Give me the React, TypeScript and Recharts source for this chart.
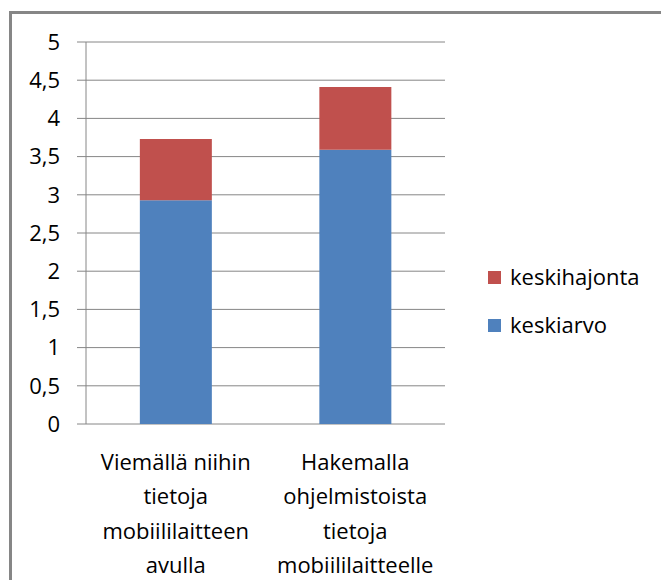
import React from "react";
import { BarChart, Bar, XAxis, YAxis, CartesianGrid, Legend } from "recharts";

// Category labels, broken into the lines shown under each bar
const categories = [
  "Viemällä niihin\ntietoja\nmobiililaitteen\navulla",
  "Hakemalla\nohjelmistoista\ntietoja\nmobiililaitteelle",
];
const keskiarvo = [2.93, 3.59];
const keskihajonta = [0.8, 0.82];
const yTicks = [0, 0.5, 1, 1.5, 2, 2.5, 3, 3.5, 4, 4.5, 5];

const data = categories.map((name, i) => ({
  name,
  keskiarvo: keskiarvo[i],
  keskihajonta: keskihajonta[i],
}));

// Category boundaries for the tick marks between bars
const edgeTicks = Array.from({ length: categories.length + 1 }, (_, i) => i);

const FONT = "'Open Sans', sans-serif";
const GRID = "#868686";
const BLUE = "#4F81BD";
const RED = "#C0504D";

const CategoryTick = (props: any) => {
  const { x, y, payload } = props;
  const lines = String(payload.value).split("\n");
  return (
    <text
      x={x}
      y={y}
      textAnchor="middle"
      fontFamily={FONT}
      fontSize={22}
      fill="#000"
    >
      {lines.map((line, i) => (
        <tspan key={i} x={x} dy={i === 0 ? 44 : 34.3}>
          {line}
        </tspan>
      ))}
    </text>
  );
};

const LegendContent = (props: any) => {
  const items = [...(props.payload || [])].reverse();
  return (
    <div style={{ fontFamily: FONT, fontSize: 22, color: "#000" }}>
      {items.map((item: any) => (
        <div
          key={item.value}
          style={{ display: "flex", alignItems: "center", height: 48 }}
        >
          <span
            style={{
              display: "inline-block",
              width: 13,
              height: 13,
              background: item.color,
              marginRight: 9,
              marginTop: 2,
            }}
          />
          <span>{item.value}</span>
        </div>
      ))}
    </div>
  );
};

export default function App() {
  return (
    <div
      style={{
        position: "absolute",
        left: 0,
        top: 0,
        width: 661,
        height: 580,
        overflow: "hidden",
        background: "#fff",
      }}
    >
      <div
        style={{
          position: "absolute",
          left: 9,
          top: 11,
          width: 700,
          height: 620,
          borderTop: `3px solid ${GRID}`,
          borderLeft: `3px solid ${GRID}`,
        }}
      />
      <div style={{ position: "absolute", left: 0, top: 0 }}>
        <BarChart
          width={661}
          height={580}
          data={data}
          margin={{ top: 42, right: 216, bottom: 6, left: 0 }}
          barCategoryGap="30%"
        >
          <CartesianGrid vertical={false} stroke={GRID} />
          <XAxis
            xAxisId="edges"
            type="number"
            domain={[0, categories.length]}
            ticks={edgeTicks}
            allowDataOverflow
            height={0}
            tick={false}
            tickSize={9}
            tickLine={{ stroke: GRID }}
            axisLine={{ stroke: GRID }}
          />
          <XAxis
            dataKey="name"
            height={150}
            axisLine={false}
            tickLine={false}
            tickSize={0}
            tick={<CategoryTick />}
            interval={0}
          />
          <YAxis
            width={86}
            domain={[0, 5]}
            ticks={yTicks}
            interval={0}
            tickSize={9}
            tickMargin={17}
            tickLine={{ stroke: GRID }}
            axisLine={{ stroke: GRID }}
            tickFormatter={(v: number) => String(v).replace(".", ",")}
            tick={{ fontFamily: FONT, fontSize: 22, fill: "#000" }}
          />
          <Legend
            layout="vertical"
            align="center"
            verticalAlign="middle"
            content={<LegendContent />}
            wrapperStyle={{ left: 488, top: 252, width: 170 }}
          />
          <Bar
            dataKey="keskiarvo"
            name="keskiarvo"
            stackId="a"
            fill={BLUE}
            isAnimationActive={false}
          />
          <Bar
            dataKey="keskihajonta"
            name="keskihajonta"
            stackId="a"
            fill={RED}
            isAnimationActive={false}
          />
        </BarChart>
      </div>
    </div>
  );
}
